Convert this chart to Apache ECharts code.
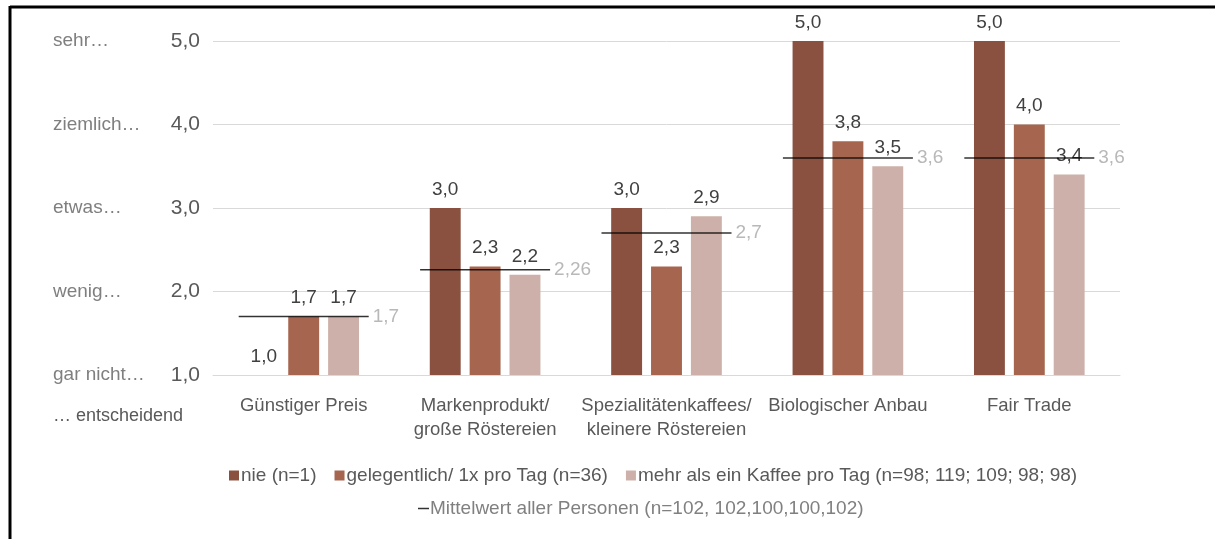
<!DOCTYPE html>
<html><head><meta charset="utf-8">
<script src="https://cdn.jsdelivr.net/npm/echarts@6/dist/echarts.min.js"></script>
<style>html,body{margin:0;padding:0;background:#fff}#c{width:1215px;height:539px}</style>
</head><body><div id="c"></div>
<script>
const categories = ['Günstiger Preis', 'Markenprodukt/\ngroße Röstereien', 'Spezialitätenkaffees/\nkleinere Röstereien', 'Biologischer Anbau', 'Fair Trade'];
const seriesNames = ['nie (n=1)', 'gelegentlich/ 1x pro Tag (n=36)', 'mehr als ein Kaffee pro Tag (n=98; 119; 109; 98; 98)'];
const nie = [1.0, 3.0, 3.0, 5.0, 5.0];
const gelegentlich = [1.7, 2.3, 2.3, 3.8, 4.0];
const mehr = [1.7, 2.2, 2.9, 3.5, 3.4];
const meanName = 'Mittelwert aller Personen (n=102, 102,100,100,102)';
const mittelwert = [1.7, 2.26, 2.7, 3.6, 3.6];
const yTickValues = [1, 2, 3, 4, 5];
const yTickWords = ['gar nicht…', 'wenig…', 'etwas…', 'ziemlich…', 'sehr…'];
const colors = ['#8A5140', '#A5654F', '#CCB0A9'];
const FONT = "'Liberation Sans', sans-serif";

const chart = echarts.init(document.getElementById('c'));
const comma = v => String(v).replace('.', ',');
const barLabel = {show: true, position: 'top', distance: 9, color: '#404040', fontSize: 19, fontFamily: FONT,
  formatter: p => p.value.toFixed(1).replace('.', ',')};
const mkBar = (name, data, i) => ({
  name, type: 'bar', data, barGap: '29%', barCategoryGap: '39%', barMinHeight: 2,
  itemStyle: {color: colors[i]}, label: barLabel
});
chart.setOption({
  animation: false,
  textStyle: {fontFamily: FONT},
  grid: {left: 213, right: 95, top: 41, bottom: 164},
  legend: [
    {data: seriesNames, left: 224, top: 461, itemWidth: 10, itemHeight: 10, itemGap: 18, icon: 'rect',
     textStyle: {color: '#595959', fontSize: 19, fontFamily: FONT, padding: [0, 0, 0, -3]}},
    {data: [{name: meanName, icon: 'rect'}], left: 413, top: 494, itemWidth: 11, itemHeight: 1.5,
     itemStyle: {color: '#000'},
     textStyle: {color: '#808080', fontSize: 19, fontFamily: FONT, padding: [0, 0, 0, -4]}}
  ],
  xAxis: {
    type: 'category', data: categories,
    axisLine: {lineStyle: {color: '#d9d9d9'}}, axisTick: {show: false},
    axisLabel: {color: '#595959', fontSize: 18.5, fontFamily: FONT, margin: 19, lineHeight: 24, interval: 0}
  },
  yAxis: {
    type: 'value', min: 1, max: 5, interval: 1,
    splitLine: {lineStyle: {color: '#d9d9d9'}},
    axisLabel: {
      margin: 13, align: 'right',
      formatter: v => '{a|' + yTickWords[yTickValues.indexOf(v)] + '}{b|' + v.toFixed(1).replace('.', ',') + '}',
      rich: {
        a: {width: 104, align: 'left', color: '#7f7f7f', fontSize: 19, fontFamily: FONT},
        b: {width: 43, align: 'right', color: '#595959', fontSize: 21, fontFamily: FONT}
      }
    }
  },
  series: [
    mkBar(seriesNames[0], nie, 0),
    mkBar(seriesNames[1], gelegentlich, 1),
    mkBar(seriesNames[2], mehr, 2),
    {
      name: meanName, type: 'scatter', data: mittelwert, symbol: 'rect', symbolSize: [130, 1.5], z: 5,
      itemStyle: {color: '#000'},
      label: {show: true, position: 'right', distance: 4, color: '#a6a6a6', fontSize: 19, fontFamily: FONT,
        formatter: p => comma(p.value)}
    }
  ],
  graphic: [
    {type: 'text', left: 53, top: 407, style: {text: '… entscheidend', fill: '#595959', fontSize: 18, fontFamily: FONT}},
    {type: 'line', shape: {x1: 10, y1: 7, x2: 1215, y2: 7}, style: {stroke: '#000', lineWidth: 3}},
    {type: 'line', shape: {x1: 10, y1: 6, x2: 10, y2: 539}, style: {stroke: '#000', lineWidth: 3}}
  ]
});
</script></body></html>
